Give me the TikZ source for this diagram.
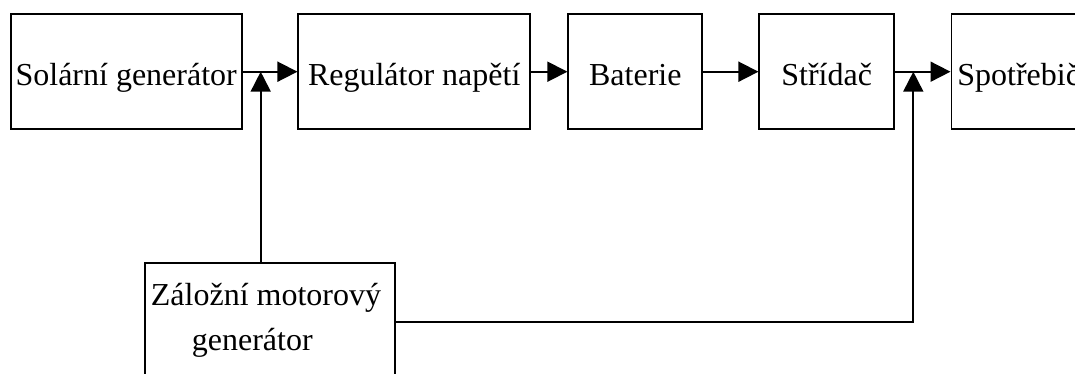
\documentclass[tikz,border=0pt]{standalone}
\usepackage{fontspec}
\setmainfont{Liberation Serif}
\usetikzlibrary{arrows.meta}
\begin{document}
\begin{tikzpicture}[x=1pt,y=-1pt,
  every node/.style={font=\fontsize{32}{38}\selectfont},
  blk/.style={draw, line width=1.8pt, minimum height=115.3pt, inner sep=0pt, text height=28pt, text depth=0pt},
  conn/.style={line width=1.8pt},
  arr/.style={conn, -{Triangle[length=20pt,width=20pt]}},
  lbl/.style={anchor=base west, inner sep=0pt}
]
\useasboundingbox (0,0) rectangle (1075,374);
\clip (0,0) rectangle (1075,374);
\node[blk, minimum width=231pt]   (A) at (126.2,71.7) {Solární generátor};
\node[blk, minimum width=231.7pt] (B) at (414.2,71.7) {Regulátor napětí};
\node[blk, minimum width=134pt]   (C) at (635.3,71.7) {Baterie};
\node[blk, minimum width=134.7pt] (D) at (826.7,71.7) {Střídač};
\node[blk, minimum width=134.6pt] (E) at (1018.7,71.7) {Spotřebič};
\node[draw, line width=1.8pt, minimum width=250pt, minimum height=117.4pt, inner sep=0pt] (F) at (270,321.7) {};
\node[lbl] (F1) at (150.7,305) {Záložní motorový};
\node[lbl] (F2) at (191.7,350) {generátor};
\coordinate (j1) at (260.7,71.7);
\coordinate (j2) at (913.3,71.7);
\draw[arr] (A) -- (B);
\draw[arr] (B) -- (C);
\draw[arr] (C) -- (D);
\draw[arr] (D) -- (E);
\draw[arr] (F.north -| j1) -- (j1);
\draw[arr] (F.east) -| (j2);
\end{tikzpicture}
\end{document}
